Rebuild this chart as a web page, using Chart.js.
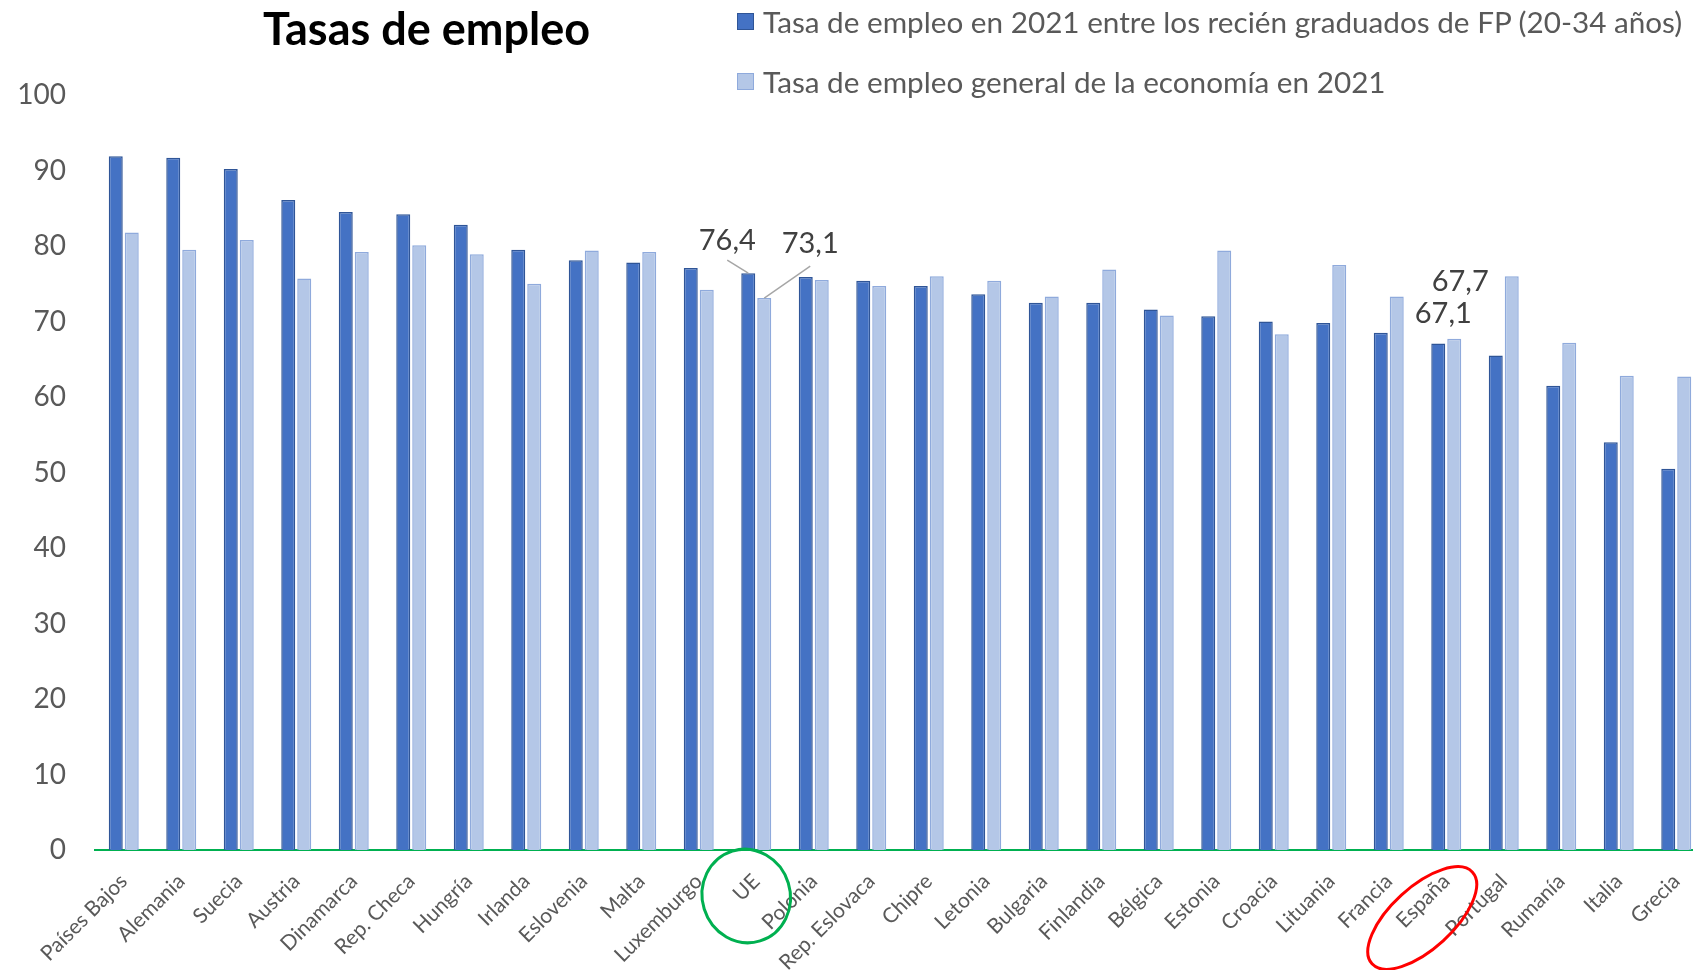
<!DOCTYPE html>
<html>
<head>
<meta charset="utf-8">
<script src="https://cdn.jsdelivr.net/npm/chart.js@4/dist/chart.umd.min.js"></script>
<style>
    html, body { margin: 0; padding: 0; background: #fff; overflow: hidden; }
    #wrap { position: relative; width: 1693px; height: 970px; overflow: hidden; }
    #chart { position: absolute; left: 0; top: 0; }
    #title {
        position: absolute; left: 263px; top: 1px;
        font: bold 45px Lato, "Open Sans", sans-serif; color: #000;
    }
    #legend { position: absolute; left: 737px; top: 0; font: 29.7px Lato, "Open Sans", sans-serif; color: #595959; }
    .item { position: absolute; left: 0; white-space: nowrap; display: flex; align-items: center; }
    .box { width: 15px; height: 15px; margin-right: 9px; border: 1.5px solid; }
</style>
</head>
<body>
<div id="wrap">
    <canvas id="chart" width="1720" height="970"></canvas>
    <div id="title">Tasas de empleo</div>
    <div id="legend"></div>
</div>
<script>
// datos
const categories = ['Países Bajos', 'Alemania', 'Suecia', 'Austria', 'Dinamarca', 'Rep. Checa', 'Hungría',
    'Irlanda', 'Eslovenia', 'Malta', 'Luxemburgo', 'UE', 'Polonia', 'Rep. Eslovaca', 'Chipre', 'Letonia',
    'Bulgaria', 'Finlandia', 'Bélgica', 'Estonia', 'Croacia', 'Lituania', 'Francia', 'España', 'Portugal',
    'Rumanía', 'Italia', 'Grecia'];
const fpGraduates = [91.9, 91.7, 90.2, 86.1, 84.5, 84.2, 82.8, 79.5, 78.1, 77.8, 77.1, 76.4, 75.9, 75.4,
    74.7, 73.6, 72.5, 72.5, 71.6, 70.7, 70.0, 69.8, 68.5, 67.1, 65.5, 61.5, 54.0, 50.5];
const generalRate = [81.8, 79.5, 80.8, 75.7, 79.2, 80.1, 78.9, 75.0, 79.4, 79.2, 74.2, 73.1, 75.5, 74.7,
    76.0, 75.4, 73.3, 76.9, 70.8, 79.4, 68.3, 77.5, 73.3, 67.7, 76.0, 67.2, 62.8, 62.7];
const seriesNames = ['Tasa de empleo en 2021 entre los recién graduados de FP (20-34 años)',
    'Tasa de empleo general de la economía en 2021'];
const yMin = 0, yMax = 100, yStep = 10;
const labelledCategories = ['UE', 'España'];

const colors = [
    { fill: '#4472C4', border: '#2F5597' },
    { fill: '#B4C7E7', border: '#8FAADC' }
];

// leyenda
const legendEl = document.getElementById('legend');
seriesNames.forEach((name, i) => {
    const item = document.createElement('div');
    item.className = 'item';
    item.style.top = (i === 0 ? 4 : 64) + 'px';
    item.innerHTML = '<span class="box" style="background:' + colors[i].fill + ';border-color:' +
        colors[i].border + '"></span><span>' + name + '</span>';
    legendEl.appendChild(item);
});

const fmt = v => v.toFixed(1).replace('.', ',');

// etiquetas de datos y marcas
const annotations = {
    id: 'annotations',
    afterDatasetsDraw(chart) {
        const ctx = chart.ctx;
        const m0 = chart.getDatasetMeta(0).data;
        const m1 = chart.getDatasetMeta(1).data;
        const ue = categories.indexOf(labelledCategories[0]);
        const es = categories.indexOf(labelledCategories[1]);
        ctx.save();
        ctx.font = '29px Lato, "Open Sans", sans-serif';
        ctx.fillStyle = '#404040';
        ctx.textAlign = 'center';
        ctx.textBaseline = 'middle';

        // UE
        let b = m0[ue];
        ctx.fillText(fmt(fpGraduates[ue]), b.x - 21, b.y - 33);
        ctx.strokeStyle = '#A6A6A6';
        ctx.lineWidth = 1.5;
        ctx.beginPath();
        ctx.moveTo(b.x - 21, b.y - 13);
        ctx.lineTo(b.x, b.y);
        ctx.stroke();
        b = m1[ue];
        ctx.fillText(fmt(generalRate[ue]), b.x + 46, b.y - 54);
        ctx.beginPath();
        ctx.moveTo(b.x + 46, b.y - 32);
        ctx.lineTo(b.x, b.y);
        ctx.stroke();

        // España
        b = m0[es];
        ctx.fillText(fmt(fpGraduates[es]), b.x + 5, b.y - 30);
        b = m1[es];
        ctx.fillText(fmt(generalRate[es]), b.x + 6, b.y - 57);
        ctx.restore();
    },
    afterDraw(chart) {
        const ctx = chart.ctx;
        const x = chart.scales.x;
        const bottom = chart.chartArea.bottom;
        ctx.save();
        ctx.lineWidth = 3;
        ctx.strokeStyle = '#00B050';
        ctx.beginPath();
        ctx.ellipse(x.getPixelForValue(categories.indexOf('UE')) - 10, bottom + 46, 44, 47, -0.3, 0, Math.PI * 2);
        ctx.stroke();
        ctx.strokeStyle = '#FF0000';
        ctx.beginPath();
        ctx.ellipse(x.getPixelForValue(categories.indexOf('España')) - 24, bottom + 68, 68, 31, -0.74, 0, Math.PI * 2);
        ctx.stroke();
        ctx.restore();
    }
};

new Chart(document.getElementById('chart'), {
    type: 'bar',
    data: {
        labels: categories,
        datasets: [
            {
                label: seriesNames[0],
                data: fpGraduates,
                backgroundColor: colors[0].fill,
                borderColor: colors[0].border,
                borderWidth: 1.5
            },
            {
                label: seriesNames[1],
                data: generalRate,
                backgroundColor: colors[1].fill,
                borderColor: colors[1].border,
                borderWidth: 1.5
            }
        ]
    },
    options: {
        responsive: false,
        animation: false,
        layout: { padding: { top: 95, right: 15, bottom: 0, left: 0 } },
        datasets: { bar: { categoryPercentage: 0.556, barPercentage: 0.875 } },
        plugins: {
            legend: { display: false },
            title: { display: false },
            tooltip: { enabled: false }
        },
        scales: {
            x: {
                grid: { display: false, drawTicks: false },
                border: { display: true, color: '#00B050', width: 2 },
                ticks: {
                    autoSkip: false,
                    maxRotation: 45,
                    minRotation: 45,
                    padding: 19,
                    color: '#595959',
                    font: { family: 'Lato, "Open Sans", sans-serif', size: 21 }
                },
                afterFit(scale) { scale.height = 120; }
            },
            y: {
                min: yMin,
                max: yMax,
                grid: { display: false, drawTicks: false },
                border: { display: false },
                ticks: {
                    stepSize: yStep,
                    padding: 29,
                    color: '#595959',
                    font: { family: 'Lato, "Open Sans", sans-serif', size: 28 }
                },
                afterFit(scale) { scale.width = 95; }
            }
        }
    },
    plugins: [annotations]
});
</script>
</body>
</html>
